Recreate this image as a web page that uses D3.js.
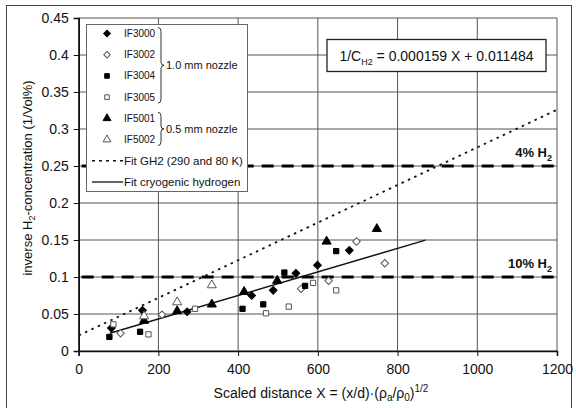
<!DOCTYPE html>
<html>
<head>
<meta charset="utf-8">
<script src="https://cdn.jsdelivr.net/npm/d3@7"></script>
<style>
	body { margin: 0; background: #fff; }
	text { font-family: "Liberation Sans", Arial, sans-serif; fill: #111; }
</style>
</head>
<body>
<div id="chart"></div>
<script>

// data ///////////////////////////////////////////

let xTicks = [0, 200, 400, 600, 800, 1000, 1200],
	yTicks = [0, 0.05, 0.1, 0.15, 0.2, 0.25, 0.3, 0.35, 0.4, 0.45];

let if3000 = [[82, 0.031], [160, 0.055], [272, 0.053], [434, 0.075], [488, 0.082], [545, 0.105], [599, 0.116], [679, 0.136]],
	if3002 = [[105, 0.024], [209, 0.049], [558, 0.084], [627, 0.095], [697, 0.148], [768, 0.1185]],
	if3004 = [[77, 0.019], [154, 0.026], [411, 0.057], [463, 0.063], [516, 0.106], [568, 0.088], [646, 0.135]],
	if3005 = [[87, 0.036], [175, 0.0225], [292, 0.057], [470, 0.051], [527, 0.060], [588, 0.092], [646, 0.082]],
	if5001 = [[164, 0.041], [247, 0.054], [334, 0.063], [415, 0.080], [498, 0.095], [622, 0.148], [748, 0.165]],
	if5002 = [[164, 0.047], [247, 0.066], [334, 0.089]];

let fitGH2  = [[0, 0.021], [1200, 0.326]],
	fitCryo = [[78, 0.0239], [870, 0.1498]];

let limits = [
	{ y: 0.25, pct: "4% H" },
	{ y: 0.1,  pct: "10% H" }
];

let seriesNames = ["IF3000", "IF3002", "IF3004", "IF3005", "IF5001", "IF5002"],
	seriesData  = [if3000, if3002, if3004, if3005, if5001, if5002];


function draw () {

	let width  = 576,
		height = 408;

	let svg = d3.select("#chart")
		.append("svg")
			.attr("width", width)
			.attr("height", height);

	// outer frame
	svg.append("rect")
		.attr("x", 6.5)
		.attr("y", 5.5)
		.attr("width", 565)
		.attr("height", 430)
		.attr("fill", "none")
		.attr("stroke", "#444")
		.attr("stroke-width", 1);

	let xScale = d3.scaleLinear()
		.domain([0, 1200])
		.range([78.7, 557]);

	let yScale = d3.scaleLinear()
		.domain([0, 0.45])
		.range([351, 18]);

	// grid
	let grid = svg.append("g");

	grid.selectAll(".vgrid")
		.data(xTicks)
		.enter()
			.append("line")
				.attr("x1", d => xScale(d))
				.attr("x2", d => xScale(d))
				.attr("y1", yScale(0))
				.attr("y2", yScale(0.45))
				.attr("stroke", "#555")
				.attr("stroke-width", 1);

	grid.selectAll(".hgrid")
		.data(yTicks)
		.enter()
			.append("line")
				.attr("x1", xScale(0))
				.attr("x2", xScale(1200))
				.attr("y1", d => yScale(d))
				.attr("y2", d => yScale(d))
				.attr("stroke", "#555")
				.attr("stroke-width", 1);

	// axes
	let xAxis = d3.axisBottom(xScale)
		.tickValues(xTicks)
		.tickSize(5)
		.tickPadding(8)
		.tickFormat(d3.format("d"));

	let yAxis = d3.axisLeft(yScale)
		.tickValues(yTicks)
		.tickSize(5)
		.tickPadding(5)
		.tickFormat(d => d === 0 ? "0" : String(+d.toFixed(2)));

	let gx = svg.append("g")
		.attr("transform", "translate(0," + yScale(0) + ")")
		.call(xAxis);

	let gy = svg.append("g")
		.attr("transform", "translate(" + xScale(0) + ",0)")
		.call(yAxis);

	[gx, gy].forEach(function (g) {
		g.select(".domain").attr("stroke", "#111").attr("stroke-width", 1.6);
		g.selectAll(".tick line").attr("stroke", "#111").attr("stroke-width", 1);
		g.selectAll(".tick text")
			.style("font-family", "'Liberation Sans', Arial, sans-serif")
			.style("font-size", "14px")
			.attr("fill", "#111");
	});

	// limit lines
	svg.selectAll(".limit")
		.data(limits)
		.enter()
			.append("line")
				.attr("x1", xScale(0))
				.attr("x2", xScale(1200))
				.attr("y1", d => yScale(d.y))
				.attr("y2", d => yScale(d.y))
				.attr("stroke", "#000")
				.attr("stroke-width", 3)
				.attr("stroke-dasharray", "12,8")
				.attr("stroke-dashoffset", -3);

	let limitLabels = svg.selectAll(".limitLabel")
		.data(limits)
		.enter()
			.append("text")
				.attr("x", xScale(1200) - 5)
				.attr("y", d => yScale(d.y) - 9)
				.attr("text-anchor", "end")
				.style("font-size", "13px")
				.style("font-weight", "bold");

	limitLabels.append("tspan").text(d => d.pct);
	limitLabels.append("tspan")
		.attr("dy", 4)
		.style("font-size", "9px")
		.text("2");

	// fit lines
	let line = d3.line()
		.x(d => xScale(d[0]))
		.y(d => yScale(d[1]));

	svg.append("path")
		.attr("d", line(fitGH2))
		.attr("fill", "none")
		.attr("stroke", "#111")
		.attr("stroke-width", 1.8)
		.attr("stroke-dasharray", "2.5,4.5");

	svg.append("path")
		.attr("d", line(fitCryo))
		.attr("fill", "none")
		.attr("stroke", "#111")
		.attr("stroke-width", 1.5);

	// markers (diamonds are squares turned 45 degrees)
	let styles = [
		{ type: d3.symbolSquare,   size: 30, rot: 45, fill: "#000", stroke: "#000" },
		{ type: d3.symbolSquare,   size: 28, rot: 45, fill: "#fff", stroke: "#555" },
		{ type: d3.symbolSquare,   size: 28, rot: 0,  fill: "#000", stroke: "#000" },
		{ type: d3.symbolSquare,   size: 28, rot: 0,  fill: "#fff", stroke: "#555" },
		{ type: d3.symbolTriangle, size: 36, rot: 0,  fill: "#000", stroke: "#000" },
		{ type: d3.symbolTriangle, size: 36, rot: 0,  fill: "#fff", stroke: "#555" }
	];

	seriesData.forEach(function (series, i) {
		let st = styles[i];
		svg.append("g")
			.selectAll("path")
			.data(series)
			.enter()
				.append("path")
					.attr("d", d3.symbol().type(st.type).size(st.size))
					.attr("transform", d => "translate(" + xScale(d[0]) + "," + yScale(d[1]) + ") rotate(" + st.rot + ")")
					.attr("fill", st.fill)
					.attr("stroke", st.stroke)
					.attr("stroke-width", 1);
	});

	// legend
	let legend = svg.append("g");

	legend.append("rect")
		.attr("x", 86.5)
		.attr("y", 24.5)
		.attr("width", 161)
		.attr("height", 167)
		.attr("fill", "#fff")
		.attr("stroke", "#666")
		.attr("stroke-width", 1);

	let rowY = d3.scaleLinear()
		.domain([0, 7])
		.range([33.5, 182]);

	seriesNames.forEach(function (name, i) {
		let st = styles[i];
		legend.append("path")
			.attr("d", d3.symbol().type(st.type).size(st.size * 0.75))
			.attr("transform", "translate(107," + rowY(i) + ") rotate(" + st.rot + ")")
			.attr("fill", st.fill)
			.attr("stroke", st.stroke);

		legend.append("text")
			.attr("x", 124)
			.attr("y", rowY(i) + 3.5)
			.style("font-size", "10px")
			.text(name);
	});

	// braces
	function brace (x, y0, y1) {
		let m = (y0 + y1) / 2;
		return "M" + x + "," + y0 +
			" Q" + (x + 3) + "," + y0 + " " + (x + 3) + "," + (y0 + 4) +
			" L" + (x + 3) + "," + (m - 3) +
			" Q" + (x + 3) + "," + m + " " + (x + 6) + "," + m +
			" Q" + (x + 3) + "," + m + " " + (x + 3) + "," + (m + 3) +
			" L" + (x + 3) + "," + (y1 - 4) +
			" Q" + (x + 3) + "," + y1 + " " + x + "," + y1;
	}

	let groups = [
		{ from: 0, to: 3, label: "1.0 mm nozzle" },
		{ from: 4, to: 5, label: "0.5 mm nozzle" }
	];

	groups.forEach(function (g) {
		let y0 = rowY(g.from) - 6,
			y1 = rowY(g.to) + 6;
		legend.append("path")
			.attr("d", brace(158, y0, y1))
			.attr("fill", "none")
			.attr("stroke", "#333")
			.attr("stroke-width", 1);
		legend.append("text")
			.attr("x", 166)
			.attr("y", (y0 + y1) / 2 + 4)
			.style("font-size", "11px")
			.text(g.label);
	});

	legend.append("line")
		.attr("x1", 92).attr("x2", 123)
		.attr("y1", rowY(6)).attr("y2", rowY(6))
		.attr("stroke", "#111")
		.attr("stroke-width", 1.6)
		.attr("stroke-dasharray", "3,4");

	legend.append("text")
		.attr("x", 124)
		.attr("y", rowY(6) + 4)
		.style("font-size", "11.5px")
		.text("Fit GH2 (290 and 80 K)");

	legend.append("line")
		.attr("x1", 92).attr("x2", 123)
		.attr("y1", rowY(7)).attr("y2", rowY(7))
		.attr("stroke", "#111")
		.attr("stroke-width", 1.3);

	legend.append("text")
		.attr("x", 124)
		.attr("y", rowY(7) + 4)
		.style("font-size", "11.5px")
		.text("Fit cryogenic hydrogen");

	// equation box
	svg.append("rect")
		.attr("x", 327)
		.attr("y", 39.5)
		.attr("width", 219)
		.attr("height", 32)
		.attr("fill", "#fff")
		.attr("stroke", "#222")
		.attr("stroke-width", 1.3);

	let eq = svg.append("text")
		.attr("x", 436.5)
		.attr("y", 61)
		.attr("text-anchor", "middle")
		.style("font-size", "14px");

	eq.append("tspan").text("1/C");
	eq.append("tspan").attr("dy", 4).style("font-size", "9px").text("H2");
	eq.append("tspan").attr("dy", -4).text(" = 0.000159 X + 0.011484");

	// axis titles
	let xt = svg.append("text")
		.attr("x", 321)
		.attr("y", 398)
		.attr("text-anchor", "middle")
		.style("font-size", "14px");

	xt.append("tspan").text("Scaled distance X = (x/d)\u00b7(\u03c1");
	xt.append("tspan").attr("dy", 3).style("font-size", "10px").text("a");
	xt.append("tspan").attr("dy", -3).text("/\u03c1");
	xt.append("tspan").attr("dy", 3).style("font-size", "10px").text("0");
	xt.append("tspan").attr("dy", -3).text(")");
	xt.append("tspan").attr("dy", -6).style("font-size", "10px").text("1/2");

	let yt = svg.append("text")
		.attr("transform", "translate(32,178) rotate(-90)")
		.attr("text-anchor", "middle")
		.style("font-size", "13px");

	yt.append("tspan").text("inverse H");
	yt.append("tspan").attr("dy", 3).style("font-size", "9px").text("2");
	yt.append("tspan").attr("dy", -3).text("-concentration (1/Vol%)");
};

draw();

</script>
</body>
</html>
